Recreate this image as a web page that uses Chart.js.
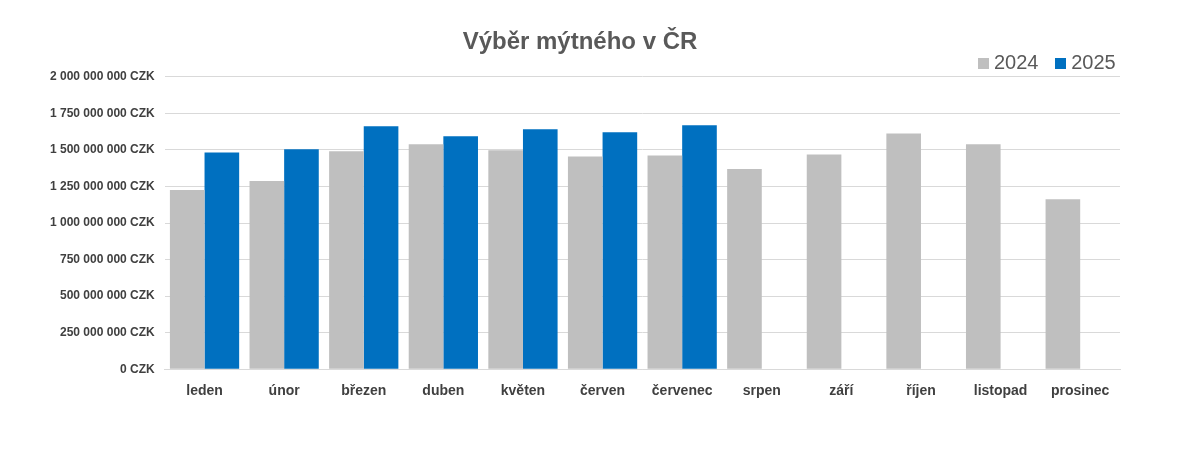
<!DOCTYPE html>
<html><head><meta charset="utf-8">
<script src="https://cdn.jsdelivr.net/npm/chart.js@4/dist/chart.umd.min.js"></script>
<style>
body{margin:0;background:#fff;font-family:"Liberation Sans",Arial,sans-serif}
#wrap{position:relative;width:1200px;height:461px}
#legend{position:absolute;left:978px;top:51px;font-size:20px;color:#595959}
#legend span.sw{display:inline-block;width:11px;height:11px;margin-right:5px}
</style></head>
<body><div id="wrap"><canvas id="c" width="1200" height="461"></canvas>
<div id="legend"><span class="sw" style="background:#bfbfbf"></span>2024&nbsp;&nbsp;&nbsp;<span class="sw" style="background:#0070c0"></span>2025</div></div>
<script>
var mesice=["leden","únor","březen","duben","květen","červen","červenec","srpen","září","říjen","listopad","prosinec"];
var vybery2024=[1225e6,1287e6,1490e6,1538e6,1497e6,1455e6,1462e6,1370e6,1468e6,1612e6,1538e6,1163e6];
var vybery2025=[1483e6,1505e6,1662e6,1594e6,1642e6,1620e6,1668e6,null,null,null,null,null];

function czk(v){return v.toFixed(0).replace(/\B(?=(\d{3})+(?!\d))/g," ")+" CZK";}

var chartVyber=new Chart(document.getElementById('c').getContext('2d'),{
	type:'bar',
	data:{
		labels:mesice,
		datasets:[
			{label:'2024',data:vybery2024,backgroundColor:'#bfbfbf'},
			{label:'2025',data:vybery2025,backgroundColor:'#0070c0'}
		]
	},
	options:{
		responsive:false,
		animation:false,
		layout:{padding:{left:40,right:80,top:8,bottom:55}},
		datasets:{bar:{categoryPercentage:0.87,barPercentage:1}},
		plugins:{
			legend:{display:false},
			tooltip:{enabled:false},
			title:{display:true,text:'Výběr mýtného v ČR',color:'#595959',
				font:{family:'Liberation Sans',size:24,weight:'bold'},padding:{top:20,bottom:20}}
		},
		scales:{
			x:{grid:{display:false},border:{color:'#d9d9d9'},
				ticks:{color:'#404040',font:{family:'Liberation Sans',size:14,weight:'bold'},padding:6}},
			y:{min:0,max:2000000000,border:{display:false},
				grid:{color:'#d9d9d9',drawTicks:false},
				ticks:{stepSize:250000000,color:'#404040',padding:10,
					font:{family:'Liberation Sans',size:12,weight:'bold'},callback:function(v){return czk(v);}}}
		}
	}
});
</script></body></html>
